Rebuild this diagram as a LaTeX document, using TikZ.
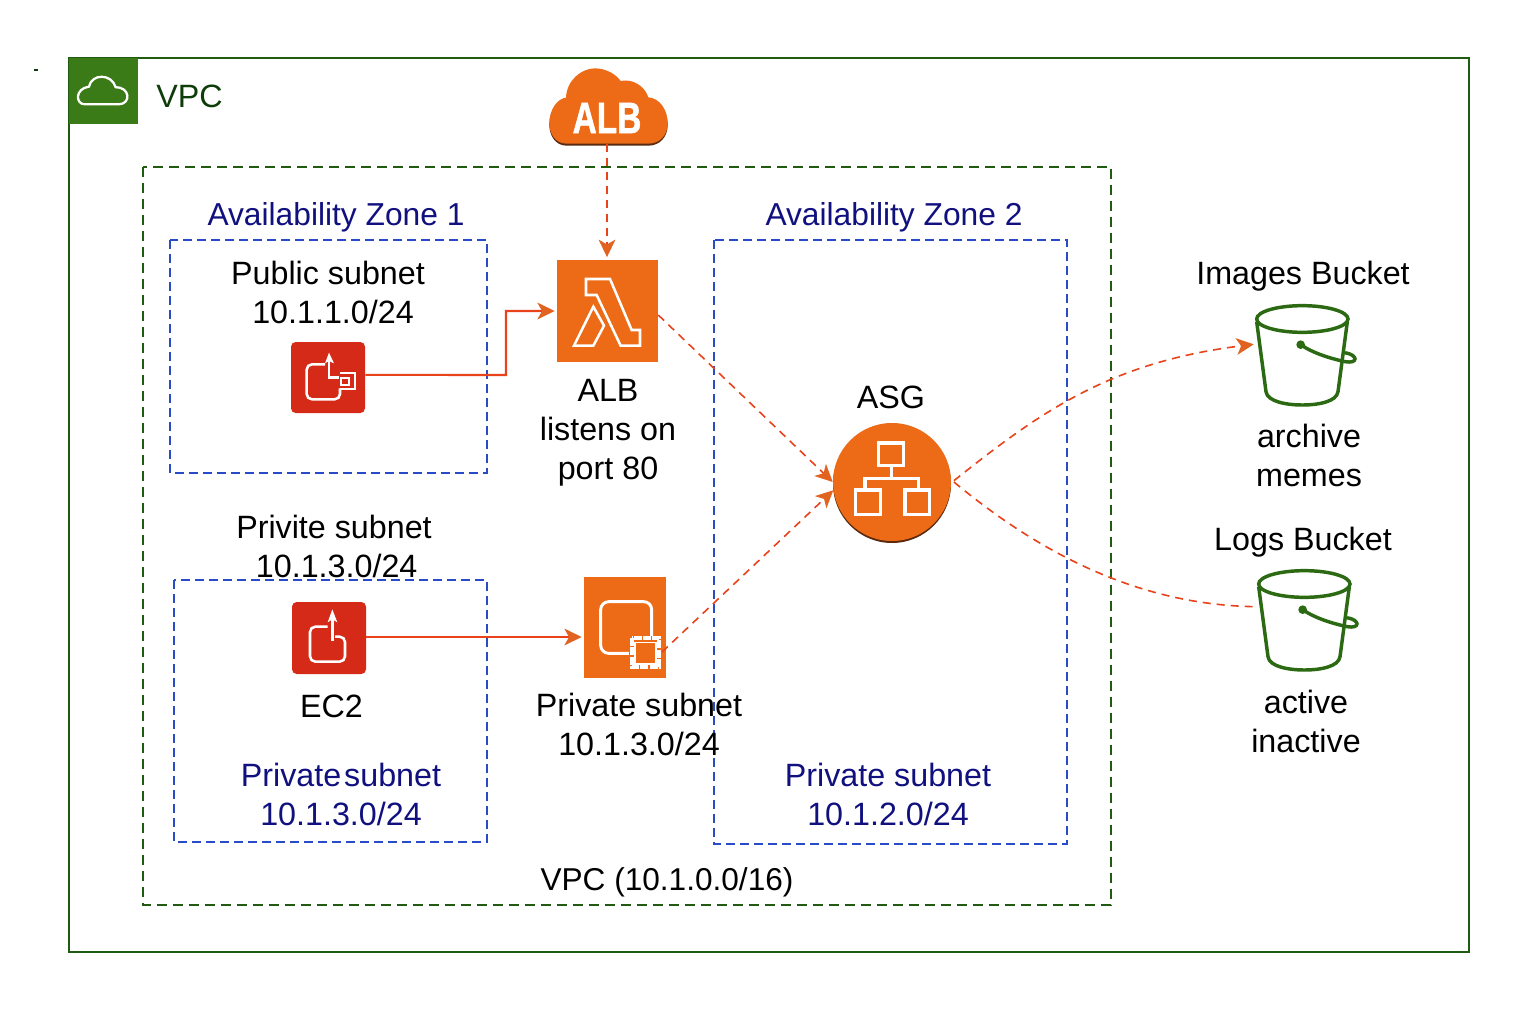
\documentclass[tikz,border=0pt]{standalone}
\usepackage{fontspec}
\setmainfont{Liberation Sans}
\newfontfamily\albfont[FakeBold=1.5]{Liberation Sans Bold}
\usetikzlibrary{arrows.meta,shapes.geometric}
\definecolor{vpcgreen}{HTML}{1F5C12}
\definecolor{vpcfill}{HTML}{3A7A17}
\definecolor{vpctext}{HTML}{0F3D0A}
\definecolor{dashblue}{HTML}{2A4BC8}
\definecolor{navytext}{HTML}{10107F}
\definecolor{awsorange}{HTML}{ED6A16}
\definecolor{awsred}{HTML}{D52A18}
\definecolor{linered}{HTML}{E8431A}
\definecolor{tiporange}{HTML}{E2631F}
\definecolor{cloudshade}{HTML}{5A2A10}
\definecolor{bucketgreen}{HTML}{2B6A12}
\tikzset{
  zone/.style={draw=vpcgreen,line width=1.1pt,dash pattern=on 7.5pt off 4.5pt},
  subnet/.style={draw=dashblue,line width=1pt,dash pattern=on 6.5pt off 4pt},
  lbl/.style={align=center,inner sep=0pt,font=\fontsize{24.2}{29.25}\selectfont,text=black},
  lblblue/.style={lbl,text=navytext},
  lblsmall/.style={font=\fontsize{23.8}{29.25}\selectfont},
  iconbox/.style={rectangle,inner sep=0pt,fill=awsorange},
  redbox/.style={rectangle,inner sep=0pt,fill=awsred,rounded corners=3.5pt},
  conn/.style={draw=linered,line width=1.2pt,dash pattern=on 6pt off 4.5pt,-{Stealth[length=13pt,width=12.5pt,inset=3.5pt,color=tiporange]}},
  connplain/.style={draw=linered,line width=1.2pt,dash pattern=on 6pt off 4.5pt},
  solidconn/.style={draw=linered,line width=1.6pt,-{Stealth[length=13pt,width=12.5pt,inset=3.5pt,color=tiporange]}},
  bucketline/.style={draw=bucketgreen,line width=2.6pt}
}
\newcommand{\bucketglyph}{%
  \draw[bucketline] (217,87) ellipse [x radius=137,y radius=40];
  \draw[bucketline,line join=round] (80,95) -- (108,305) .. controls (112,335) and (170,345) .. (217,345) .. controls (265,345) and (320,335) .. (324,305) -- (352,95);
  \fill[bucketgreen] (212,164) circle [radius=13];
  \draw[bucketline] (212,164) .. controls (250,190) and (300,205) .. (345,215) .. controls (385,222) and (385,195) .. (345,188);
}
\begin{document}
\begin{tikzpicture}[x=.75pt,y=-.75pt]
\useasboundingbox (0,0) rectangle (1536,1024);
\fill[white] (0,0) rectangle (1536,1024);
% VPC frame
\draw[vpcgreen,line width=1.7pt] (69,58) rectangle (1469,952);
\fill[vpcfill] (69,58) rectangle (138,124);
\begin{scope}[shift={(20,40)},x=.25pt,y=-.25pt]
  \draw[white,line width=1.7pt,line join=round] (195,193) -- (295,193) .. controls (335,193) and (330,140) .. (287,142) .. controls (275,100) and (215,100) .. (207,140) .. controls (165,145) and (165,193) .. (195,193) -- cycle;
\end{scope}
\node[lbl,text=vpctext] (vpclabel) at (189.5,96.5) {VPC};
\draw[vpctext,line width=.9pt] (34,70) -- (38,70);
% dashed boxes
\draw[zone] (143,167) rectangle (1111,905);
\draw[subnet] (170,240) rectangle (487,473);
\draw[subnet] (174,580) rectangle (487,842);
\draw[subnet] (714,240) rectangle (1067,844);
% ALB cloud
\begin{scope}[shift={(530,55)},x=.25pt,y=-.25pt]
  \fill[cloudshade] (110,272) .. controls (75,272) and (58,240) .. (58,210) .. controls (58,165) and (85,135) .. (108,133) -- (355,132) .. controls (390,135) and (413,170) .. (413,210) .. controls (413,245) and (390,272) .. (355,272) -- cycle;
  \fill[awsorange] (110,266) .. controls (75,266) and (58,235) .. (58,205) .. controls (58,160) and (85,130) .. (108,128) .. controls (110,75) and (155,40) .. (195,40) .. controls (230,40) and (260,60) .. (272,78) .. controls (310,70) and (345,95) .. (355,127) .. controls (390,130) and (413,165) .. (413,205) .. controls (413,240) and (390,266) .. (355,266) -- cycle;
\end{scope}
\node[rectangle,inner sep=0pt,minimum width=88.5pt,minimum height=57pt] (albcloud) at (607,106) {};
\node[inner sep=0pt,xscale=.76,transform shape,text=white,font=\fontsize{33}{33}\selectfont\albfont] (albtext) at (607,118) {ALB};
% Lambda icon
\node[iconbox,minimum width=75.75pt,minimum height=76.5pt] (lam) at (607.5,311) {};
\begin{scope}[shift={(530,55)},x=.25pt,y=-.25pt]
  \draw[white,line width=1.9pt] (168,672) -- (240,672) -- (305,825) -- (330,825) -- (330,872) -- (272,872) -- (200,720) -- (168,720) -- cycle;
  \draw[white,line width=1.9pt] (190,755) -- (222,812) -- (190,872) -- (132,872) -- cycle;
\end{scope}
% Red icon (public)
\node[redbox,minimum width=55.5pt,minimum height=53.25pt] (ectop) at (328,377.5) {};
\begin{scope}[shift={(280,330)},x=.25pt,y=-.25pt]
  \draw[white,line width=1.9pt,rounded corners=4pt] (135,103) -- (80,103) -- (80,208) -- (180,208) -- (180,175);
  \draw[white,line width=1.9pt] (147,85) -- (147,142) -- (178,142);
  \fill[white] (135,100) -- (147,68) -- (162,100) -- (147,93) -- cycle;
  \draw[white,line width=1.6pt] (180,130) -- (225,130) -- (225,177) -- (180,177);
  \draw[white,line width=1.6pt] (183,143) rectangle (207,165);
\end{scope}
% Red icon (EC2)
\node[redbox,minimum width=55.5pt,minimum height=54pt] (ecbottom) at (329,638) {};
\begin{scope}[shift={(280,590)},x=.25pt,y=-.25pt]
  \draw[white,line width=1.9pt,rounded corners=4pt] (143,110) -- (90,110) -- (90,215) -- (195,215) -- (195,140) -- (165,140);
  \draw[white,line width=2.1pt] (157,152) -- (157,80);
  \fill[white] (143,97) -- (157,58) -- (172,97) -- (157,88) -- cycle;
\end{scope}
% Orange instance icon
\node[iconbox,minimum width=61.5pt,minimum height=75.75pt] (inst) at (625,627.5) {};
\begin{scope}[shift={(570,565)},x=.25pt,y=-.25pt]
  \draw[white,line width=2.2pt,rounded corners=6pt] (92,110) rectangle (245,265);
  \fill[awsorange] (178,212) rectangle (275,312);
  \draw[white,line width=2.8pt,dash pattern=on 6pt off 1pt] (185,219) rectangle (268,305);
  \draw[white,line width=1.2pt] (195,232) rectangle (258,297);
\end{scope}
\coordinate (instout) at (662,652);
% ASG
\fill[cloudshade] (892,484) circle [radius=59];
\node[circle,fill=awsorange,inner sep=0pt,minimum size=88.5pt] (asg) at (892,482) {};
\begin{scope}[shift={(820,410)},x=.25pt,y=-.25pt]
  \draw[white,line width=2.3pt] (175,99) rectangle (250,166);
  \draw[white,line width=2.3pt] (106,240) rectangle (181,314);
  \draw[white,line width=2.3pt] (255,240) rectangle (328,314);
  \draw[white,line width=2.3pt] (215,166) -- (215,205);
  \draw[white,line width=2.3pt] (135,240) -- (135,205) -- (295,205) -- (295,240);
\end{scope}
% Buckets
\node[rectangle,inner sep=0pt,minimum width=72pt,minimum height=76pt] (bktimages) at (1302,355) {};
\begin{scope}[shift={(1230,290)},x=.25pt,y=-.25pt]\bucketglyph\end{scope}
\node[rectangle,inner sep=0pt,minimum width=72pt,minimum height=76pt] (bktlogs) at (1304,620) {};
\begin{scope}[shift={(1232,555)},x=.25pt,y=-.25pt]\bucketglyph\end{scope}
% connectors
\draw[conn,shorten >=2pt] (albcloud.south) -- (albcloud.south |- lam.north);
\draw[solidconn,shorten >=1.5pt] ([yshift=2pt]ectop.east) -- (506,375) |- (lam.west);
\draw[solidconn,shorten >=1.5pt] ([yshift=.75pt]ecbottom.east) -- ([yshift=.75pt]ecbottom.east -| inst.west);
\draw[conn] ([yshift=-3pt]lam.east) -- (asg.180);
\draw[conn] (instout) -- (asg.188);
\draw[conn] ([xshift=2pt,yshift=1pt]asg.east) .. controls (1040,412) and (1110,362) .. ([yshift=8pt]bktimages.west);
\draw[connplain] ([xshift=2pt]asg.east) .. controls (1030,545) and (1130,605) .. ([yshift=10pt]bktlogs.west);
% labels
\node[lblblue,lblsmall] (az1) at (336,217) {Availability Zone 1};
\node[lblblue,lblsmall] (az2) at (894,217) {Availability Zone 2};
\node[lbl] (pub) at (328,292.5) {Public subnet\\\hspace*{7.5pt}10.1.1.0/24};
\node[lbl] (prv) at (334,546.5) {Privite subnet\\\hspace*{4pt}10.1.3.0/24};
\node[lbl] (albl) at (608,432.5) {ALB\\listens on\\port 80};
\node[lbl] (asgl) at (891,397) {ASG};
\node[lbl] (ec2l) at (331.5,706) {EC2};
\node[lbl] (prv2) at (639,724) {Private subnet\\10.1.3.0/24};
\node[lblblue] (prv3) at (341,794.5) {Private\hspace{-4.5pt} subnet\\10.1.3.0/24};
\node[lblblue] (prv4) at (888,794.5) {Private subnet\\10.1.2.0/24};
\node[lbl,font=\fontsize{23.7}{29.25}\selectfont] (vpcc) at (667,882.5) {VPC (10.1.0.0/16)};
\node[lbl] (imgb) at (1303,276) {Images Bucket};
\node[lbl] (arch) at (1309,455.5) {archive\\memes};
\node[lbl] (logb) at (1303,542) {Logs Bucket};
\node[lbl] (actv) at (1306,721) {active\\inactive};
\end{tikzpicture}
\end{document}
